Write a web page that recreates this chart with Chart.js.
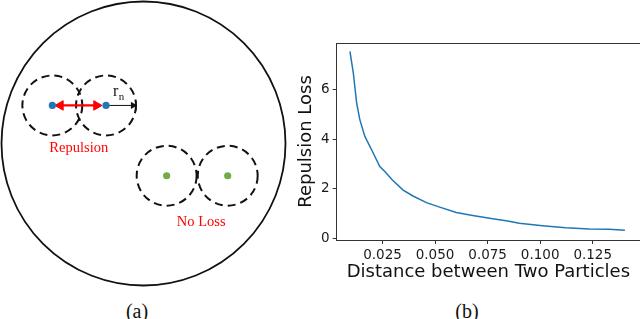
<!DOCTYPE html>
<html><head><meta charset="utf-8">
<script src="https://cdn.jsdelivr.net/npm/chart.js@4/dist/chart.umd.min.js"></script>
<style>
html,body{margin:0;padding:0;background:#fff;width:640px;height:319px;overflow:hidden;position:relative}
#ca{position:absolute;left:0;top:0}
#cb{position:absolute;left:290px;top:0}
.cap{position:absolute;top:301px;line-height:20px;font-family:"Liberation Serif","Times New Roman",serif;font-size:20px;color:#111;transform:translateX(-50%);white-space:nowrap}
</style></head><body>
<canvas id="ca" width="290" height="290"></canvas>
<canvas id="cb" width="350" height="300"></canvas>
<div class="cap" style="left:137px">(a)</div>
<div class="cap" style="left:467px">(b)</div>
<script>
// ---------- panel (b) data ----------
const distance = [0.0095,0.0111,0.0127,0.0142,0.0166,0.0198,0.0237,0.0261,0.0297,0.0348,0.0395,0.0459,0.0522,0.0601,0.0679,0.0759,0.0845,0.0901,0.1011,0.1122,0.1233,0.1328,0.1403];
const repulsionLoss = [7.56,6.69,5.47,4.80,4.12,3.58,2.90,2.70,2.36,1.95,1.71,1.44,1.26,1.04,0.92,0.81,0.70,0.61,0.51,0.43,0.38,0.36,0.32];
const xTicks = [0.025,0.050,0.075,0.100,0.125];
const yTicks = [0,2,4,6];

// ---------- panel (a) diagram data (units: boundary radius = 1) ----------
const boundary = [{x:0,y:0}];
const boundaryRadius = 1;
const repelParticles = [{x:-0.642,y:0.268},{x:-0.264,y:0.268}];
const freeParticles = [{x:0.163,y:-0.227},{x:0.593,y:-0.227}];
const influenceRadius = 0.211;
const repulsionArrow = [{x:-0.585,y:0.268},{x:-0.331,y:0.268}];
const radiusArrow = [{x:-0.264,y:0.268},{x:-0.074,y:0.268},{x:-0.053,y:0.268}];
const diagramLabels = ['Repulsion','No Loss'];
const labelAnchors = [{x:-0.456,y:-0.063},{x:0.406,y:-0.581}];
const radiusLabelAnchor = {x:-0.215,y:0.335};

const pxRadius = unit => ctx => {
  const s = ctx.chart.scales.x;
  return Math.abs(s.getPixelForValue(unit) - s.getPixelForValue(0));
};

const dashPlugin = {
  id:'dashPlugin',
  beforeDatasetDraw(chart,args){
    const ds = chart.data.datasets[args.index];
    if (ds.dash){ chart.ctx.save(); chart.ctx.setLineDash(ds.dash); }
  },
  afterDatasetDraw(chart,args){
    const ds = chart.data.datasets[args.index];
    if (ds.dash){ chart.ctx.restore(); }
  }
};

const labelPlugin = {
  id:'labelPlugin',
  afterDatasetsDraw(chart){
    const {ctx, scales:{x, y}} = chart;
    ctx.save();
    ctx.fillStyle = '#ff0000';
    ctx.font = '14.5px "Liberation Serif", "Times New Roman", serif';
    ctx.textAlign = 'center';
    ctx.textBaseline = 'alphabetic';
    diagramLabels.forEach((t,i) => {
      ctx.fillText(t, x.getPixelForValue(labelAnchors[i].x), y.getPixelForValue(labelAnchors[i].y));
    });
    ctx.fillStyle = '#111';
    ctx.textAlign = 'left';
    const rx = x.getPixelForValue(radiusLabelAnchor.x), ry = y.getPixelForValue(radiusLabelAnchor.y);
    ctx.font = '16px "Liberation Serif", "Times New Roman", serif';
    ctx.fillText('r', rx, ry);
    const w = ctx.measureText('r').width;
    ctx.font = '11px "Liberation Serif", "Times New Roman", serif';
    ctx.fillText('n', rx + w + 0.5, ry + 4);
    ctx.restore();
  }
};

new Chart(document.getElementById('ca'), {
  type:'scatter',
  data:{ datasets:[
    { data:repelParticles, pointRadius:3.6, pointBackgroundColor:'#1f77b4', pointBorderWidth:0, clip:false },
    { data:freeParticles, pointRadius:3.6, pointBackgroundColor:'#70ad47', pointBorderWidth:0, clip:false },
    { data:repulsionArrow, showLine:true, borderColor:'#ff0000', borderWidth:2.2, pointStyle:'triangle', pointRotation:[-90,90], pointRadius:5.5, pointBackgroundColor:'#ff0000', pointBorderColor:'#ff0000', pointBorderWidth:1, clip:false },
    { data:radiusArrow, showLine:true, borderColor:'#111', borderWidth:1, pointStyle:['circle','triangle','line'], pointRotation:[0,90,90], pointRadius:[0,3,5], pointBackgroundColor:'#111', pointBorderColor:'#111', pointBorderWidth:1.2, clip:false },
    { data:repelParticles.concat(freeParticles), dash:[8,5], pointRadius:pxRadius(influenceRadius), pointBackgroundColor:'rgba(0,0,0,0)', pointBorderColor:'#111', pointBorderWidth:2, clip:false },
    { data:boundary, pointRadius:pxRadius(boundaryRadius), pointBackgroundColor:'rgba(0,0,0,0)', pointBorderColor:'#111', pointBorderWidth:1.8, clip:false }
  ]},
  options:{
    responsive:false, animation:false, events:[],
    layout:{padding:0, autoPadding:false},
    plugins:{legend:{display:false}, tooltip:{enabled:false}},
    scales:{
      x:{type:'linear', display:false, min:-1.0106, max:1.0317},
      y:{type:'linear', display:false, min:-1.0317, max:1.0106}
    }
  },
  plugins:[dashPlugin, labelPlugin]
});

// ---------- panel (b) ----------
const spinePlugin = {
  id:'spinePlugin',
  afterDraw(chart){
    const {ctx, chartArea:a} = chart;
    ctx.save();
    ctx.strokeStyle = '#333';
    ctx.lineWidth = 1;
    ctx.beginPath();
    ctx.moveTo(a.left, Math.round(a.top)+0.5);
    ctx.lineTo(chart.width, Math.round(a.top)+0.5);
    ctx.stroke();
    ctx.restore();
  }
};

const tickFont = {family:'"DejaVu Sans", sans-serif', size:13.5};
const titleFont = {family:'"DejaVu Sans", sans-serif', size:18};

new Chart(document.getElementById('cb'), {
  type:'scatter',
  data:{ datasets:[{
    data: distance.map((d,i)=>({x:d, y:repulsionLoss[i]})),
    showLine:true, borderColor:'#1f77b4', borderWidth:1.5, pointRadius:0, tension:0, fill:false
  }]},
  options:{
    responsive:false, animation:false, events:[],
    layout:{padding:{top:43, right:-1, left:0, bottom:0}, autoPadding:false},
    plugins:{legend:{display:false}, tooltip:{enabled:false}},
    scales:{
      x:{
        type:'linear', min:0.0032, max:0.1475,
        afterBuildTicks: s => { s.ticks = xTicks.map(v => ({value:v})); },
        afterFit: s => { s.height = 60; },
        ticks:{ callback: v => Number(v).toFixed(3), font:tickFont, color:'#1a1a1a', padding:3, maxRotation:0, autoSkip:false },
        grid:{ drawOnChartArea:false, drawTicks:true, tickLength:4, color:'#333', lineWidth:1 },
        border:{ display:true, color:'#333', width:1 },
        title:{ display:true, text:'Distance between Two Particles', font:titleFont, color:'#111', padding:{top:0, bottom:17} }
      },
      y:{
        type:'linear', min:-0.07, max:7.9,
        afterBuildTicks: s => { s.ticks = yTicks.map(v => ({value:v})); },
        afterFit: s => { s.width = 46.7; },
        ticks:{ callback: v => String(v), font:tickFont, color:'#1a1a1a', padding:3 },
        grid:{ drawOnChartArea:false, drawTicks:true, tickLength:4, color:'#333', lineWidth:1 },
        border:{ display:true, color:'#333', width:1 },
        title:{ display:true, text:'Repulsion Loss', font:titleFont, color:'#111', padding:{top:6, bottom:0} }
      }
    }
  },
  plugins:[spinePlugin]
});
</script>
</body></html>
